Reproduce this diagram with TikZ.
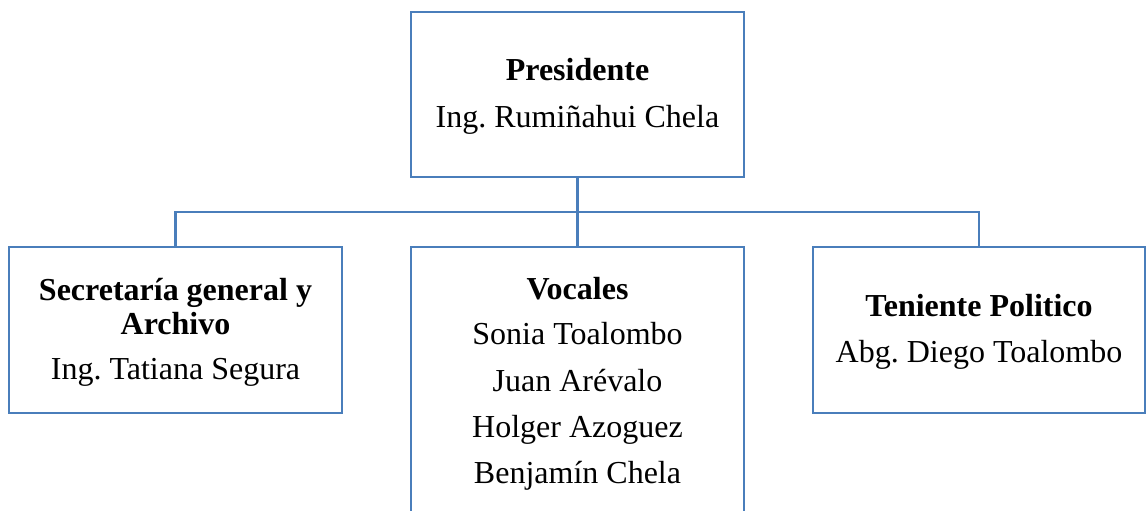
\documentclass[tikz,border=0pt]{standalone}
\usepackage{fontspec}
\setmainfont{Liberation Serif}
\definecolor{boxblue}{HTML}{4A7EBB}
\frenchspacing
\begin{document}
\begin{tikzpicture}[x=1pt,y=-1pt,
  box/.style={draw=boxblue, line width=2.6pt, fill=white, inner sep=0pt, outer sep=0pt},
  conn/.style={draw=boxblue, line width=2.6pt},
  txt/.style={anchor=base, inner sep=0pt, font=\fontsize{32}{38}\selectfont}]
\clip (0,0) rectangle (1146,511);
\fill[white] (0,0) rectangle (1146,511);
% boxes
\node[box, minimum width=333pt, minimum height=165pt] (pres) at (577.5,94.5) {};
\node[box, minimum width=333pt, minimum height=166pt] (secr) at (175.5,330) {};
\node[box, minimum width=333pt, minimum height=290pt] (voc) at (577.5,392) {};
\node[box, minimum width=332pt, minimum height=166pt] (ten) at (979,330) {};
% connectors
\coordinate (bus) at (577.5,212);
\draw[conn] (pres.south) -- (voc.north);
\draw[conn] (secr.north) |- (bus) -| (ten.north);
% texts
\node[txt] (presA) at (577.5,81) {\textbf{Presidente}};
\node[txt] (presB) at (577.5,127) {Ing. Rumiñahui Chela};
\node[txt] (secrA) at (175.5,300) {\textbf{Secretaría general y}};
\node[txt] (secrB) at (175.5,334) {\textbf{Archivo}};
\node[txt] (secrC) at (175.5,379) {Ing. Tatiana Segura};
\node[txt] (vocA) at (577.5,299) {\textbf{Vocales}};
\node[txt] (vocB) at (577.5,344) {Sonia Toalombo};
\node[txt] (vocC) at (577.5,391) {Juan Arévalo};
\node[txt] (vocD) at (577.5,437) {Holger Azoguez};
\node[txt] (vocE) at (577.5,483) {Benjamín Chela};
\node[txt] (tenA) at (979,316) {\textbf{Teniente Politico}};
\node[txt] (tenB) at (979,362) {Abg. Diego Toalombo};
\end{tikzpicture}
\end{document}
